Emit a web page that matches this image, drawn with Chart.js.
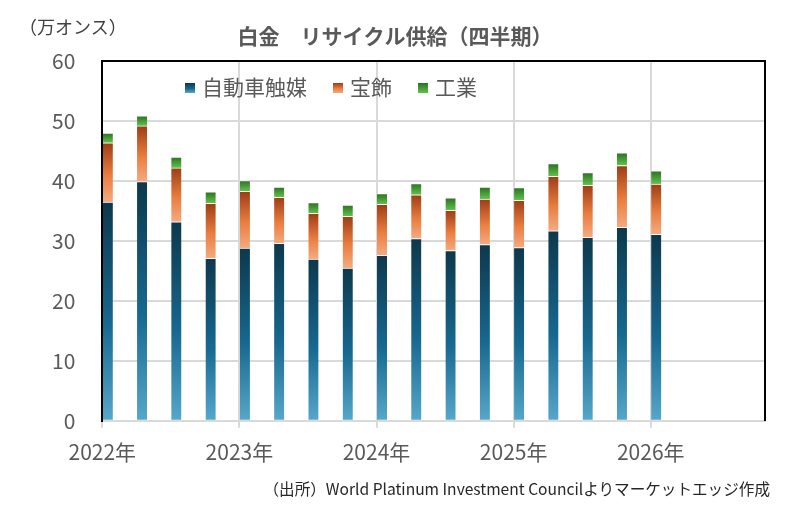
<!DOCTYPE html>
<html>
<head>
<meta charset="utf-8">
<script src="https://cdn.jsdelivr.net/npm/chart.js@4"></script>
<style>
  html, body { margin: 0; padding: 0; background: #fff; }
  #wrap { position: relative; width: 788px; height: 508px; font-family: "Noto Sans CJK JP", "Noto Sans", sans-serif; }
  #chart { position: absolute; left: 0; top: 0; }
  .unit { position: absolute; left: 19px; top: 13px; font-size: 18px; color: #404040; }
  .legend { position: absolute; top: 71px; left: 185px; font-size: 21px; color: #595959; white-space: nowrap; }
  .legend span.item { display: inline-block; margin-right: 26px; }
  .legend span.box { display: inline-block; width: 10px; height: 10px; margin-right: 7px; vertical-align: 2px; }
  .source { position: absolute; right: 18px; top: 477px; font-size: 15.6px; color: #262626; white-space: nowrap; }
</style>
</head>
<body>
<div id="wrap">
  <canvas id="chart" width="788" height="508"></canvas>
  <div class="unit">（万オンス）</div>
  <div class="legend" id="legend"></div>
  <div class="source">（出所）World Platinum Investment Councilよりマーケットエッジ作成</div>
</div>
<script>
// 四半期（2022年Q1〜2026年Q1）
const years    = [2022, 2022, 2022, 2022, 2023, 2023, 2023, 2023, 2024, 2024, 2024, 2024, 2025, 2025, 2025, 2025, 2026];
const quarters = [1, 2, 3, 4, 1, 2, 3, 4, 1, 2, 3, 4, 1, 2, 3, 4, 1];

const seriesNames = ['自動車触媒', '宝飾', '工業'];
const autocatalyst = [36.5, 39.9, 33.2, 27.1, 28.8, 29.6, 27.0, 25.5, 27.6, 30.4, 28.4, 29.4, 28.9, 31.7, 30.6, 32.3, 31.1];
const jewellery    = [9.9, 9.3, 9.0, 9.2, 9.5, 7.7, 7.6, 8.6, 8.5, 7.3, 6.7, 7.6, 7.9, 9.1, 8.7, 10.3, 8.4];
const industrial   = [1.6, 1.7, 1.8, 1.9, 1.8, 1.7, 1.8, 1.9, 1.8, 1.9, 2.1, 2.0, 2.1, 2.1, 2.1, 2.1, 2.2];

const yTicks = [0, 10, 20, 30, 40, 50, 60];
const xYears = [2022, 2023, 2024, 2025, 2026];

// グラデーション（上が濃い）
const gradStops = [
    [[0, '#0d384c'], [0.55, '#176890'], [1, '#57a7ca']],
    [[0, '#9c3d17'], [0.55, '#ea7d3f'], [1, '#f3ab80']],
    [[0, '#2a711f'], [1, '#62c24c']]
];
const flatColors = ['#17688f', '#ea7d3f', '#4aa83a'];

const seriesValues = [autocatalyst, jewellery, industrial];
const xPos = years.map((y, i) => y + (quarters[i] - 1) / 4 + 0.04);

function segmentFill(ctx) {
    const chart = ctx.chart;
    const ds = ctx.datasetIndex;
    if (ctx.type !== 'data' || !chart.chartArea || !chart.scales.y) return flatColors[ds];
    const i = ctx.dataIndex;
    let base = 0;
    for (let k = 0; k < ds; k++) base += seriesValues[k][i];
    const yScale = chart.scales.y;
    const yTop = yScale.getPixelForValue(base + seriesValues[ds][i]);
    const yBot = yScale.getPixelForValue(base);
    if (!isFinite(yTop) || !isFinite(yBot) || yTop === yBot) return flatColors[ds];
    const g = chart.ctx.createLinearGradient(0, yTop, 0, yBot);
    gradStops[ds].forEach(s => g.addColorStop(s[0], s[1]));
    return g;
}

const datasets = seriesValues.map((vals, ds) => ({
    label: seriesNames[ds],
    data: vals.map((v, i) => ({ x: xPos[i], y: v })),
    backgroundColor: segmentFill,
    borderColor: 'rgba(255,255,255,0.85)',
    borderWidth: { top: 1, left: 0, right: 0, bottom: 0 },
    borderSkipped: 'start',
    barThickness: 10
}));

const fontFamily = '"Noto Sans CJK JP", "Noto Sans", sans-serif';

new Chart(document.getElementById('chart'), {
    type: 'bar',
    data: { datasets: datasets },
    options: {
        responsive: false,
        animation: false,
        layout: { padding: { left: 25, right: 23, top: 0, bottom: 31 } },
        plugins: {
            legend: { display: false },
            tooltip: { enabled: false },
            title: {
                display: true,
                text: '白金　リサイクル供給（四半期）',
                color: '#595959',
                font: { family: fontFamily, size: 21, weight: 'bold' },
                padding: { top: 23, bottom: 13 }
            }
        },
        scales: {
            x: {
                type: 'linear',
                stacked: true,
                offset: false,
                min: 2022,
                max: 2026 + 10 / 12,
                afterBuildTicks: axis => {
                    axis.ticks = xYears.map(v => ({ value: v }));
                },
                ticks: {
                    color: '#595959',
                    font: { family: fontFamily, size: 21 },
                    padding: 12,
                    maxRotation: 0,
                    autoSkip: false,
                    callback: v => v + '年'
                },
                grid: {
                    offset: false,
                    color: ctx => (ctx.tick && ctx.tick.value === 2022) ? '#000' : '#d9d9d9',
                    lineWidth: 2,
                    tickColor: '#d9d9d9',
                    tickLength: 7
                },
                border: { color: '#d9d9d9', width: 2 }
            },
            y: {
                stacked: true,
                min: 0,
                max: 60,
                afterBuildTicks: axis => {
                    axis.ticks = yTicks.map(v => ({ value: v }));
                },
                ticks: {
                    color: '#595959',
                    font: { family: fontFamily, size: 21 },
                    padding: 27
                },
                grid: {
                    color: ctx => (ctx.tick && ctx.tick.value === 60) ? '#000' : '#d9d9d9',
                    lineWidth: 2,
                    drawTicks: false
                },
                border: { color: '#000', width: 2, z: 1 }
            },
            yRight: {
                position: 'right',
                min: 0,
                max: 60,
                ticks: { display: false },
                grid: { display: false, drawTicks: false },
                border: { color: '#000', width: 2 }
            }
        }
    }
});

// 凡例
const legendEl = document.getElementById('legend');
seriesNames.forEach((name, ds) => {
    const item = document.createElement('span');
    item.className = 'item';
    const box = document.createElement('span');
    box.className = 'box';
    const st = gradStops[ds];
    box.style.background = 'linear-gradient(to bottom, ' + st.map(s => s[1] + ' ' + (s[0] * 100) + '%').join(', ') + ')';
    item.appendChild(box);
    item.appendChild(document.createTextNode(name));
    legendEl.appendChild(item);
});
</script>
</body>
</html>
